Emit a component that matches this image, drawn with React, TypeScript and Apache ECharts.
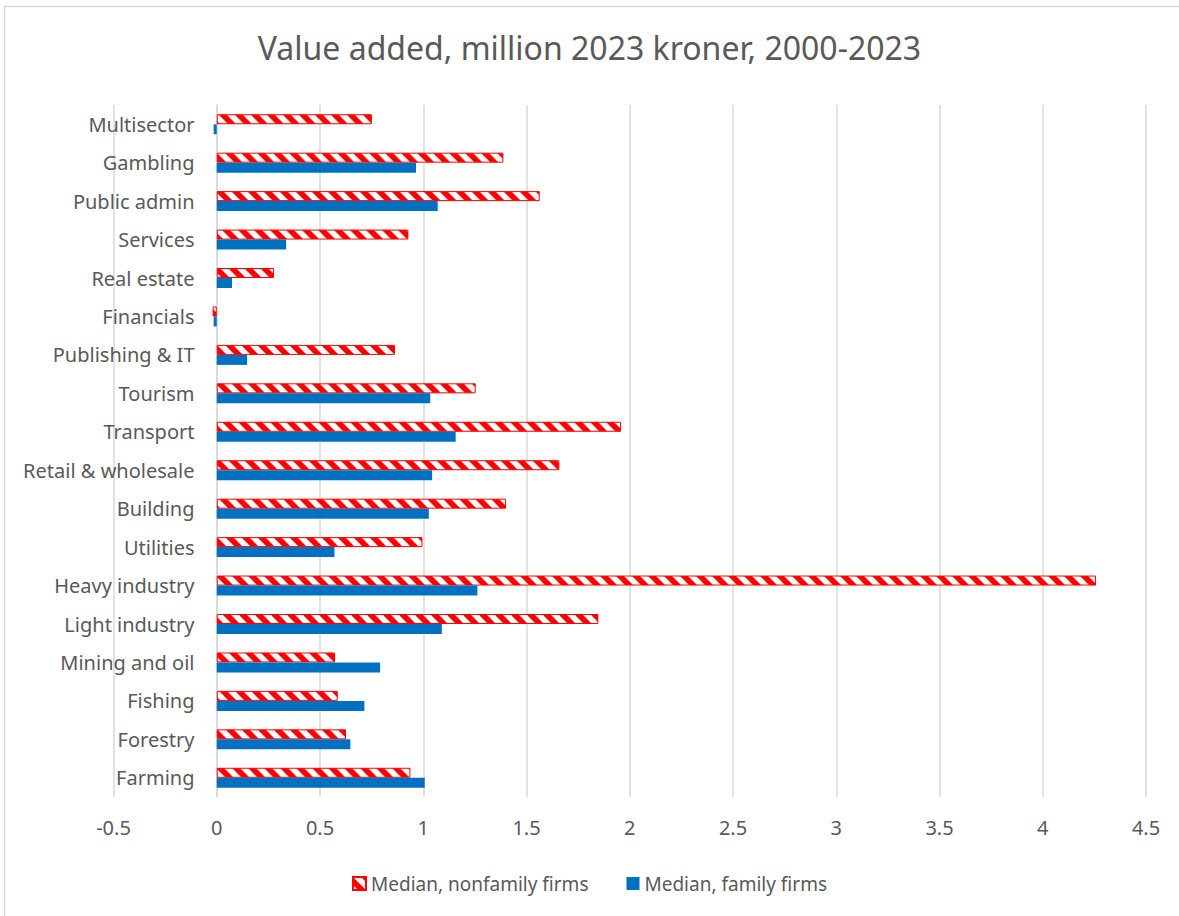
import React, { useEffect, useRef } from 'react';
import * as echarts from 'echarts';

const categories = [
  'Farming', 'Forestry', 'Fishing', 'Mining and oil', 'Light industry', 'Heavy industry',
  'Utilities', 'Building', 'Retail & wholesale', 'Transport', 'Tourism', 'Publishing & IT',
  'Financials', 'Real estate', 'Services', 'Public admin', 'Gambling', 'Multisector',
];
const nonfamily = [0.938, 0.626, 0.586, 0.573, 1.848, 4.258, 0.996, 1.401, 1.659, 1.958, 1.254, 0.863, -0.02, 0.277, 0.928, 1.564, 1.388, 0.751];
const family = [1.007, 0.647, 0.715, 0.791, 1.09, 1.262, 0.57, 1.027, 1.043, 1.157, 1.034, 0.147, -0.015, 0.074, 0.336, 1.07, 0.965, -0.015];
const xMin = -0.5;
const xMax = 4.5;
const xStep = 0.5;
const seriesNames = ['Median, nonfamily firms', 'Median, family firms'];
const title = 'Value added, million 2023 kroner, 2000-2023';

const FONT = "'Noto Sans', sans-serif";
const GREY = '#595959';

function makePattern(): HTMLCanvasElement {
  const c = document.createElement('canvas');
  c.width = 16;
  c.height = 16;
  const ctx = c.getContext('2d')!;
  ctx.fillStyle = '#FF0000';
  ctx.fillRect(0, 0, 16, 16);
  ctx.fillStyle = '#FFFFFF';
  for (const k of [-32, -16, 0, 16]) {
    ctx.beginPath();
    ctx.moveTo(k, 0);
    ctx.lineTo(k + 8, 0);
    ctx.lineTo(k + 24, 16);
    ctx.lineTo(k + 16, 16);
    ctx.closePath();
    ctx.fill();
  }
  return c;
}

export default function App() {
  const ref = useRef<HTMLDivElement>(null);
  useEffect(() => {
    if (!ref.current) return;
    const chart = echarts.init(ref.current, undefined, { renderer: 'svg' });
    const pattern = makePattern();
    chart.setOption({
      animation: false,
      backgroundColor: '#FFFFFF',
      title: {
        text: title,
        left: 'center',
        top: 26,
        textStyle: { fontFamily: FONT, fontSize: 32, fontWeight: 'normal', color: GREY },
      },
      graphic: [
        {
          type: 'rect',
          silent: true,
          z: -10,
          shape: { x: 4.5, y: 6.5, width: 1200, height: 1000 },
          style: { fill: 'none', stroke: '#D9D9D9', lineWidth: 1.5 },
        },
      ],
      legend: {
        data: seriesNames,
        left: 'center',
        top: 869,
        itemWidth: 13,
        itemHeight: 13,
        itemGap: 38,
        icon: 'rect',
        textStyle: { fontFamily: FONT, fontSize: 19, color: GREY },
      },
      grid: {
        left: 113.5,
        right: 33,
        top: 105,
        bottom: 119,
        containLabel: false,
        outerBoundsMode: 'none',
      },
      xAxis: {
        type: 'value',
        min: xMin,
        max: xMax,
        interval: xStep,
        axisLine: { show: false },
        axisTick: { show: false },
        axisLabel: { fontFamily: FONT, fontSize: 20, color: GREY, margin: 20 },
        splitLine: { show: true, lineStyle: { color: '#D9D9D9', width: 1.5 } },
      },
      yAxis: {
        type: 'category',
        data: categories,
        axisLine: { show: true, onZero: true, lineStyle: { color: '#D9D9D9', width: 1.5 } },
        axisTick: { show: false },
        axisLabel: { fontFamily: FONT, fontSize: 20, color: GREY, margin: -81 },
        splitLine: { show: false },
      },
      series: [
        {
          name: seriesNames[0],
          type: 'bar',
          data: nonfamily,
          barWidth: 10,
          barGap: '0%',
          itemStyle: {
            color: { image: pattern, repeat: 'repeat' },
            borderColor: '#FF0000',
            borderWidth: 1,
          },
        },
        {
          name: seriesNames[1],
          type: 'bar',
          data: family,
          barWidth: 10,
          barGap: '0%',
          itemStyle: { color: '#0070C0' },
        },
      ],
    });
    return () => chart.dispose();
  }, []);
  return (
    <div
      ref={ref}
      style={{ position: 'fixed', left: 0, top: 0, width: 1179, height: 916 }}
    />
  );
}
